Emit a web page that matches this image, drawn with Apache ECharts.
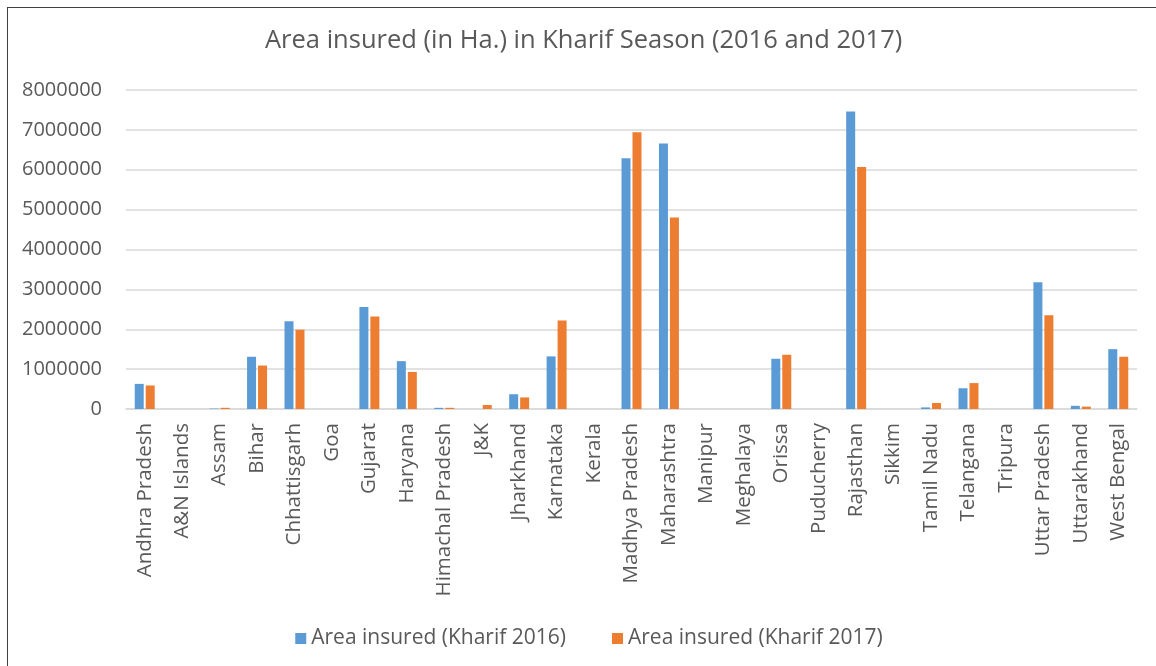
<!DOCTYPE html>
<html>
<head>
<meta charset="utf-8">
<script src="https://cdn.jsdelivr.net/npm/echarts@6/dist/echarts.min.js"></script>
<style>
  body { margin: 0; background: #fff; overflow: hidden; }
  #chart {
    position: absolute; left: 7px; top: 7px;
    width: 1162px; height: 680px;
    border-left: 1px solid #404040; border-top: 1px solid #404040;
  }
</style>
</head>
<body>
<div id="chart"></div>
<script>
  // states, in the order of the reference
  const states = ['Andhra Pradesh', 'A&N Islands', 'Assam', 'Bihar', 'Chhattisgarh', 'Goa', 'Gujarat',
    'Haryana', 'Himachal Pradesh', 'J&K', 'Jharkhand', 'Karnataka', 'Kerala', 'Madhya Pradesh',
    'Maharashtra', 'Manipur', 'Meghalaya', 'Orissa', 'Puducherry', 'Rajasthan', 'Sikkim',
    'Tamil Nadu', 'Telangana', 'Tripura', 'Uttar Pradesh', 'Uttarakhand', 'West Bengal']
  const kharif2016 = [630000, 0, 10000, 1310000, 2200000, 0, 2560000,
    1200000, 30000, 0, 370000, 1320000, 0, 6290000,
    6660000, 0, 0, 1260000, 0, 7460000, 0,
    40000, 520000, 0, 3180000, 80000, 1500000]
  const kharif2017 = [590000, 0, 30000, 1090000, 1990000, 0, 2320000,
    930000, 30000, 100000, 290000, 2220000, 0, 6940000,
    4800000, 0, 0, 1360000, 0, 6070000, 0,
    150000, 650000, 0, 2350000, 60000, 1310000]
  const seriesNames = ['Area insured (Kharif 2016)', 'Area insured (Kharif 2017)']
  const titleText = 'Area insured (in Ha.) in Kharif Season (2016 and 2017)'

  let chart = echarts.init(document.getElementById('chart'))
  const font = '"Open Sans", "Noto Sans", sans-serif'
  chart.setOption({
    animation: false,
    textStyle: { fontFamily: font },
    title: {
      text: titleText,
      left: 257,
      top: 20,
      padding: 0,
      textStyle: { fontSize: 25.5, fontWeight: 'normal', color: '#595959', fontFamily: font }
    },
    legend: {
      data: seriesNames,
      left: 'center',
      top: 620,
      padding: 0,
      itemWidth: 11,
      itemHeight: 11,
      itemGap: 46,
      icon: 'rect',
      textStyle: { fontSize: 21, color: '#595959', fontFamily: font }
    },
    grid: {
      left: 118,
      top: 82,
      width: 1011,
      height: 319
    },
    xAxis: {
      type: 'category',
      data: states,
      axisTick: { show: false },
      axisLine: { lineStyle: { color: '#d9d9d9', width: 1.5 } },
      axisLabel: {
        rotate: 90,
        interval: 0,
        margin: 14,
        fontSize: 20.5,
        color: '#595959',
        fontFamily: font
      }
    },
    yAxis: {
      type: 'value',
      min: 0,
      max: 8000000,
      interval: 1000000,
      axisLine: { show: false },
      axisTick: { show: false },
      splitLine: { lineStyle: { color: '#d9d9d9', width: 1.5 } },
      axisLabel: {
        margin: 24, fontSize: 20, color: '#595959', fontFamily: font,
        formatter: v => String(v)
      }
    },
    series: [
      {
        name: seriesNames[0],
        type: 'bar',
        data: kharif2016,
        barWidth: 9,
        barGap: '22%',
        itemStyle: { color: '#5b9bd5' }
      },
      {
        name: seriesNames[1],
        type: 'bar',
        data: kharif2017,
        barWidth: 9,
        itemStyle: { color: '#ed7d31' }
      }
    ]
  })
</script>
</body>
</html>
